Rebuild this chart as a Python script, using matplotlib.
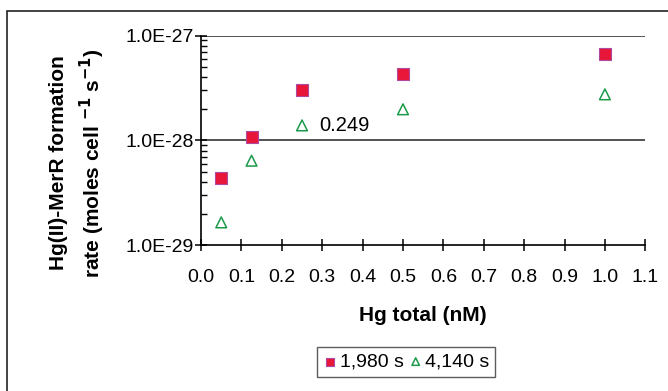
import matplotlib.pyplot as plt
from matplotlib.patches import Rectangle
from matplotlib.ticker import LogLocator, NullFormatter, FixedLocator

plt.rcParams['font.family'] = ['Liberation Sans', 'DejaVu Sans']

hg_total = [0.05, 0.125, 0.25, 0.5, 1.0]
rate_1980 = [4.4e-29, 1.08e-28, 3.0e-28, 4.3e-28, 6.6e-28]
rate_4140 = [1.65e-29, 6.4e-29, 1.39e-28, 1.98e-28, 2.75e-28]
x_ticks = [0.0, 0.1, 0.2, 0.3, 0.4, 0.5, 0.6, 0.7, 0.8, 0.9, 1.0, 1.1]
y_ticks = [1e-29, 1e-28, 1e-27]
y_labels = ['1.0E-29', '1.0E-28', '1.0E-27']

fig = plt.figure(figsize=(6.68, 3.91), dpi=100)
# outer frame
fig.patches.append(Rectangle((7 / 668, -0.1), 1.2, 1 - 11 / 391 + 0.1, transform=fig.transFigure,
                             fill=False, edgecolor='#222222', linewidth=1.2))
ax = fig.add_axes([0.301, 0.373, 0.665, 0.536])
ax.set_yscale('log')
ax.set_xlim(0, 1.1)
ax.set_ylim(1e-29, 1e-27)

for y in [1e-28, 1e-27]:
    ax.axhline(y, color='#444444', linewidth=1.3, zorder=1)

ax.scatter(hg_total, rate_1980, marker='s', s=70, color='#e8173a', edgecolor='#b04aa0',
           linewidth=0.8, zorder=3, label='1,980 s')
ax.scatter(hg_total, rate_4140, marker='^', s=60, facecolor='none', edgecolor='#1a9a4a',
           linewidth=1.1, zorder=3, label='4,140 s')
ax.text(0.292, 1.39e-28, '0.249', fontsize=14.5, va='center', ha='left')

ax.xaxis.set_major_locator(FixedLocator(x_ticks))
ax.set_xticklabels(['%.1f' % v for v in x_ticks], fontsize=14)
ax.yaxis.set_major_locator(FixedLocator(y_ticks))
ax.set_yticklabels(y_labels, fontsize=14)
ax.yaxis.set_minor_locator(LogLocator(base=10, subs=range(2, 10)))
ax.yaxis.set_minor_formatter(NullFormatter())
ax.tick_params(axis='x', direction='inout', length=9, width=1.1, pad=13)
ax.tick_params(axis='y', which='major', direction='inout', length=8, width=1.1, pad=1)
ax.tick_params(axis='y', which='minor', direction='in', length=4, width=1)

for s in ['top', 'right']:
    ax.spines[s].set_visible(False)
ax.spines['left'].set_linewidth(1.2)
ax.spines['bottom'].set_linewidth(1.2)

ax.set_xlabel('Hg total (nM)', fontsize=15, fontweight='bold', labelpad=14)
fig.text(0.087, 0.583, 'Hg(II)-MerR formation', rotation=90, fontsize=15, fontweight='bold',
         ha='center', va='center')
fig.text(0.138, 0.583, r'rate (moles cell $^{\mathbf{-1}}$ s$^{\mathbf{-1}}$)', rotation=90, fontsize=15,
         fontweight='bold', ha='center', va='center')

leg = fig.legend(loc='center', bbox_to_anchor=(0.608, 0.0745), ncol=2, fontsize=14, frameon=True,
                 fancybox=False, edgecolor='#333333', handletextpad=0.1, columnspacing=0.2,
                 handlelength=0.8, borderpad=0.3, markerscale=0.7)
leg.get_frame().set_linewidth(1.0)

fig.savefig('out.png', dpi=100)
